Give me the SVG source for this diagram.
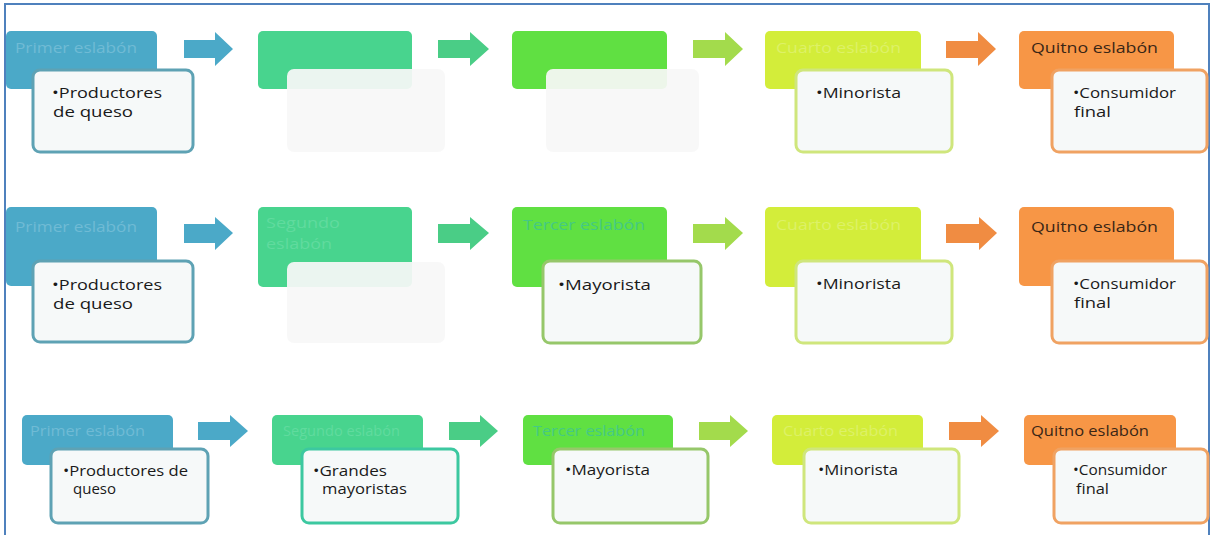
<svg xmlns="http://www.w3.org/2000/svg" width="1216" height="535" viewBox="0 0 1216 535">
<style>
text{font-family:"Open Sans","Liberation Sans",sans-serif;}
.t{font-size:15px;fill:#1a1a1a;}
.h{font-size:14px;}
.hd{fill:#3a2616;}
.c1{fill:#4BA9C8;}
.c2{fill:#48D48E;}
.c3{fill:#60E042;}
.c4{fill:#D3ED3A;}
.c5{fill:#F79646;}
.f1{fill:#70BBD5;}
.f2{fill:#60DB9E;}
.f3{fill:#44C985;}
.f4{fill:#DDF167;}
.box{fill:#F6F9F9;stroke-width:3;}
.b1{stroke:#5EA2B4;}
.b2{stroke:#3CC8A0;}
.b3{stroke:#96C76A;}
.b4{stroke:#CFE67C;}
.b5{stroke:#F0A262;}
.empty{fill:#F7F8F8;fill-opacity:0.93;}
.a1{fill:#4BA9C8;}
.a2{fill:#4ACD86;}
.a3{fill:#A3DB4C;}
.a4{fill:#F08C42;}
.frame{fill:none;stroke:#4F81BD;stroke-width:2;}
</style>
<rect width="1216" height="535" fill="#ffffff"/>
<path class="frame" d="M5,540 V4 H1209 V540"/>

<!-- Row 1 -->
<g id="r1n1">
<rect class="c1" x="6" y="31" width="151" height="58" rx="5"/>
<text class="h f1" x="15" y="53" textLength="122" lengthAdjust="spacingAndGlyphs">Primer eslabón</text>
<rect class="box b1" x="33" y="70" width="160" height="82" rx="7"/>
<text class="t" x="52" y="98" textLength="110" lengthAdjust="spacingAndGlyphs">•Productores</text>
<text class="t" x="53" y="117" textLength="80" lengthAdjust="spacingAndGlyphs">de queso</text>
</g>
<g id="r1n2">
<rect class="c2" x="258" y="31" width="154" height="58" rx="5"/>
<rect class="empty" x="287" y="69" width="158" height="83" rx="7"/>
</g>
<g id="r1n3">
<rect class="c3" x="512" y="31" width="155" height="58" rx="5"/>
<rect class="empty" x="546" y="69" width="153" height="83" rx="7"/>
</g>
<g id="r1n4">
<rect class="c4" x="765" y="31" width="156" height="58" rx="5"/>
<text class="h f4" x="776" y="53" textLength="125" lengthAdjust="spacingAndGlyphs">Cuarto eslabón</text>
<rect class="box b4" x="796" y="70" width="156" height="82" rx="7"/>
<text class="t" x="816" y="98" textLength="85" lengthAdjust="spacingAndGlyphs">•Minorista</text>
</g>
<g id="r1n5">
<rect class="c5" x="1019" y="31" width="155" height="58" rx="5"/>
<text class="h hd" x="1031" y="53" textLength="127" lengthAdjust="spacingAndGlyphs">Quitno eslabón</text>
<rect class="box b5" x="1052" y="70" width="155" height="82" rx="7"/>
<text class="t" x="1073" y="98" textLength="103" lengthAdjust="spacingAndGlyphs">•Consumidor</text>
<text class="t" x="1074" y="117" textLength="37" lengthAdjust="spacingAndGlyphs">final</text>
</g>

<!-- Row 2 -->
<g id="r2n1">
<rect class="c1" x="6" y="207" width="151" height="79" rx="5"/>
<text class="h f1" x="15" y="232" textLength="122" lengthAdjust="spacingAndGlyphs">Primer eslabón</text>
<rect class="box b1" x="33" y="261" width="160" height="81" rx="7"/>
<text class="t" x="52" y="290" textLength="110" lengthAdjust="spacingAndGlyphs">•Productores</text>
<text class="t" x="53" y="309" textLength="80" lengthAdjust="spacingAndGlyphs">de queso</text>
</g>
<g id="r2n2">
<rect class="c2" x="258" y="207" width="154" height="80" rx="5"/>
<text class="h f2" x="266" y="228" textLength="74" lengthAdjust="spacingAndGlyphs">Segundo</text>
<text class="h f2" x="266" y="249" textLength="66" lengthAdjust="spacingAndGlyphs">eslabón</text>
<rect class="empty" x="287" y="262" width="158" height="81" rx="7"/>
</g>
<g id="r2n3">
<rect class="c3" x="512" y="207" width="155" height="80" rx="5"/>
<text class="h f3" x="523" y="230" textLength="122" lengthAdjust="spacingAndGlyphs">Tercer eslabón</text>
<rect class="box b3" x="543" y="261" width="158" height="82" rx="7"/>
<text class="t" x="558" y="290" textLength="93" lengthAdjust="spacingAndGlyphs">•Mayorista</text>
</g>
<g id="r2n4">
<rect class="c4" x="765" y="207" width="156" height="80" rx="5"/>
<text class="h f4" x="776" y="230" textLength="125" lengthAdjust="spacingAndGlyphs">Cuarto eslabón</text>
<rect class="box b4" x="796" y="261" width="156" height="82" rx="7"/>
<text class="t" x="816" y="289" textLength="85" lengthAdjust="spacingAndGlyphs">•Minorista</text>
</g>
<g id="r2n5">
<rect class="c5" x="1019" y="207" width="155" height="79" rx="5"/>
<text class="h hd" x="1031" y="232" textLength="127" lengthAdjust="spacingAndGlyphs">Quitno eslabón</text>
<rect class="box b5" x="1052" y="261" width="155" height="82" rx="7"/>
<text class="t" x="1073" y="289" textLength="103" lengthAdjust="spacingAndGlyphs">•Consumidor</text>
<text class="t" x="1074" y="308" textLength="37" lengthAdjust="spacingAndGlyphs">final</text>
</g>

<!-- Row 3 -->
<g id="r3n1">
<rect class="c1" x="22" y="415" width="151" height="50" rx="5"/>
<text class="h f1" x="30" y="436" textLength="115" lengthAdjust="spacingAndGlyphs">Primer eslabón</text>
<rect class="box b1" x="51" y="449" width="157" height="74" rx="7"/>
<text class="t" x="63" y="476" textLength="125" lengthAdjust="spacingAndGlyphs">•Productores de</text>
<text class="t" x="73" y="494" textLength="43" lengthAdjust="spacingAndGlyphs">queso</text>
</g>
<g id="r3n2">
<rect class="c2" x="272" y="415" width="151" height="50" rx="5"/>
<text class="h f2" x="283" y="436" textLength="117" lengthAdjust="spacingAndGlyphs">Segundo eslabón</text>
<rect class="box b2" x="302" y="449" width="156" height="74" rx="7"/>
<text class="t" x="313" y="476" textLength="74" lengthAdjust="spacingAndGlyphs">•Grandes</text>
<text class="t" x="322" y="494" textLength="85" lengthAdjust="spacingAndGlyphs">mayoristas</text>
</g>
<g id="r3n3">
<rect class="c3" x="523" y="415" width="150" height="50" rx="5"/>
<text class="h f3" x="533" y="436" textLength="112" lengthAdjust="spacingAndGlyphs">Tercer eslabón</text>
<rect class="box b3" x="553" y="449" width="155" height="74" rx="7"/>
<text class="t" x="565" y="475" textLength="85" lengthAdjust="spacingAndGlyphs">•Mayorista</text>
</g>
<g id="r3n4">
<rect class="c4" x="772" y="415" width="151" height="50" rx="5"/>
<text class="h f4" x="783" y="436" textLength="115" lengthAdjust="spacingAndGlyphs">Cuarto eslabón</text>
<rect class="box b4" x="804" y="449" width="155" height="74" rx="7"/>
<text class="t" x="818" y="475" textLength="80" lengthAdjust="spacingAndGlyphs">•Minorista</text>
</g>
<g id="r3n5">
<rect class="c5" x="1024" y="415" width="152" height="50" rx="5"/>
<text class="h hd" x="1031" y="436" textLength="118" lengthAdjust="spacingAndGlyphs">Quitno eslabón</text>
<rect class="box b5" x="1054" y="449" width="154" height="74" rx="7"/>
<text class="t" x="1073" y="475" textLength="94" lengthAdjust="spacingAndGlyphs">•Consumidor</text>
<text class="t" x="1076" y="494" textLength="33" lengthAdjust="spacingAndGlyphs">final</text>
</g>

<g id="connectors">
<polygon class="a1" points="184,40 215,40 215,32 233,49 215,66 215,58 184,58"/>
<polygon class="a2" points="438,40 470,40 470,32 489,49 470,66 470,58 438,58"/>
<polygon class="a3" points="693,40 725,40 725,32 743,49 725,66 725,58 693,58"/>
<polygon class="a4" points="946,41 978,41 978,32 996,49 978,66 978,58 946,58"/>

<polygon class="a1" points="184,224 215,224 215,217 233,233 215,250 215,243 184,243"/>
<polygon class="a2" points="438,224 470,224 470,217 489,233 470,250 470,243 438,243"/>
<polygon class="a3" points="693,224 725,224 725,217 743,233 725,250 725,243 693,243"/>
<polygon class="a4" points="946,224 979,224 979,217 997,233 979,250 979,243 946,243"/>

<polygon class="a1" points="198,422 230,422 230,415 248,431 230,447 230,440 198,440"/>
<polygon class="a2" points="449,422 480,422 480,415 498,431 480,447 480,440 449,440"/>
<polygon class="a3" points="699,422 730,422 730,415 748,431 730,447 730,440 699,440"/>
<polygon class="a4" points="949,422 981,422 981,415 999,431 981,447 981,440 949,440"/>
</g>
</svg>
